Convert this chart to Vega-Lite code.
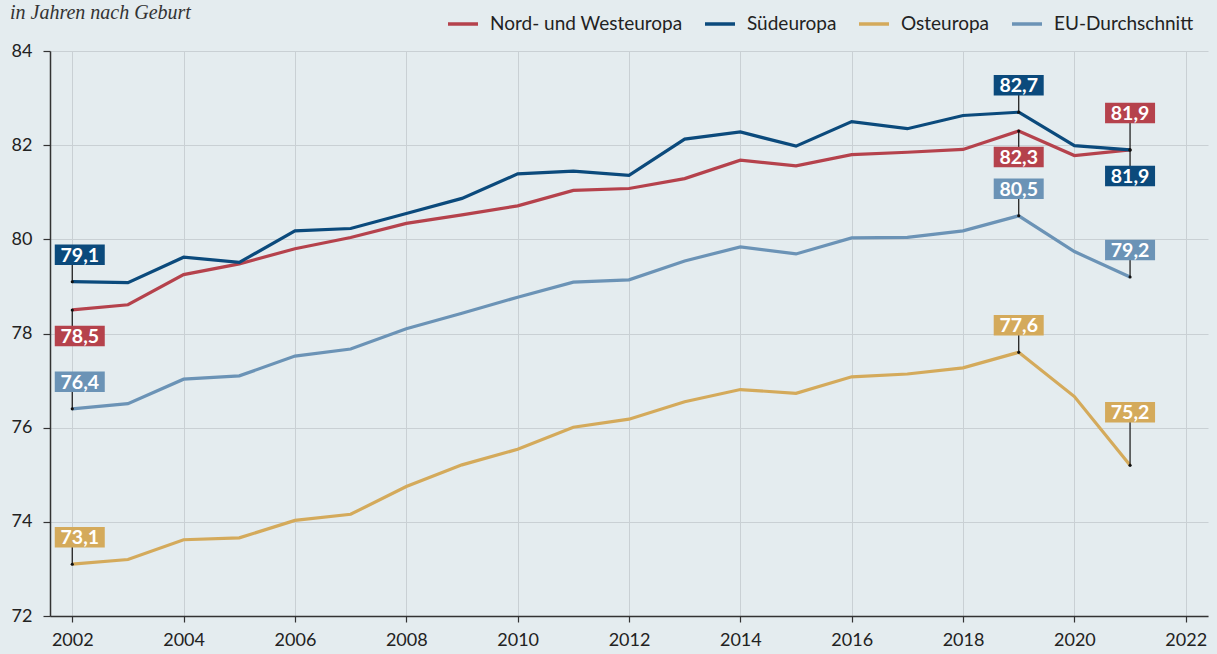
{
  "$schema": "https://vega.github.io/schema/vega-lite/v6.json",
  "width": 1158,
  "height": 565,
  "autosize": {"type": "none"},
  "padding": {"left": 50, "top": 51, "right": 9, "bottom": 38},
  "background": "#e4ecef",
  "config": {
    "view": {"stroke": null},
    "font": "Lato",
    "locale": {"number": {"decimal": ",", "thousands": ".", "grouping": [3], "currency": ["", " €"]}},
    "axis": {
      "domainColor": "#333333",
      "domainWidth": 1.5,
      "tickColor": "#333333",
      "tickWidth": 1.2,
      "gridColor": "#c9d0d4",
      "gridWidth": 1,
      "labelFont": "Lato",
      "labelFontSize": 18,
      "labelColor": "#222222",
      "title": null
    },
    "legend": {
      "labelFont": "Lato",
      "labelFontSize": 19,
      "labelColor": "#222222",
      "labelLimit": 400
    }
  },
  "title": {
    "text": "in Jahren nach Geburt",
    "anchor": "start",
    "frame": "group",
    "dx": -40,
    "offset": -32,
    "baseline": "alphabetic",
    "font": "Liberation Serif",
    "fontStyle": "italic",
    "fontWeight": "normal",
    "fontSize": 20,
    "color": "#333333"
  },
  "data": {
    "values": [
      {"region": "Nord- und Westeuropa", "jahr": 2002, "wert": 78.5},
      {"region": "Nord- und Westeuropa", "jahr": 2003, "wert": 78.61},
      {"region": "Nord- und Westeuropa", "jahr": 2004, "wert": 79.25},
      {"region": "Nord- und Westeuropa", "jahr": 2005, "wert": 79.48},
      {"region": "Nord- und Westeuropa", "jahr": 2006, "wert": 79.8},
      {"region": "Nord- und Westeuropa", "jahr": 2007, "wert": 80.04},
      {"region": "Nord- und Westeuropa", "jahr": 2008, "wert": 80.34},
      {"region": "Nord- und Westeuropa", "jahr": 2009, "wert": 80.52},
      {"region": "Nord- und Westeuropa", "jahr": 2010, "wert": 80.71},
      {"region": "Nord- und Westeuropa", "jahr": 2011, "wert": 81.04},
      {"region": "Nord- und Westeuropa", "jahr": 2012, "wert": 81.08},
      {"region": "Nord- und Westeuropa", "jahr": 2013, "wert": 81.29},
      {"region": "Nord- und Westeuropa", "jahr": 2014, "wert": 81.68},
      {"region": "Nord- und Westeuropa", "jahr": 2015, "wert": 81.56},
      {"region": "Nord- und Westeuropa", "jahr": 2016, "wert": 81.8},
      {"region": "Nord- und Westeuropa", "jahr": 2017, "wert": 81.85},
      {"region": "Nord- und Westeuropa", "jahr": 2018, "wert": 81.91},
      {"region": "Nord- und Westeuropa", "jahr": 2019, "wert": 82.3},
      {"region": "Nord- und Westeuropa", "jahr": 2020, "wert": 81.78},
      {"region": "Nord- und Westeuropa", "jahr": 2021, "wert": 81.9},
      {"region": "Südeuropa", "jahr": 2002, "wert": 79.1},
      {"region": "Südeuropa", "jahr": 2003, "wert": 79.08},
      {"region": "Südeuropa", "jahr": 2004, "wert": 79.62},
      {"region": "Südeuropa", "jahr": 2005, "wert": 79.51},
      {"region": "Südeuropa", "jahr": 2006, "wert": 80.18},
      {"region": "Südeuropa", "jahr": 2007, "wert": 80.23},
      {"region": "Südeuropa", "jahr": 2008, "wert": 80.55},
      {"region": "Südeuropa", "jahr": 2009, "wert": 80.87},
      {"region": "Südeuropa", "jahr": 2010, "wert": 81.39},
      {"region": "Südeuropa", "jahr": 2011, "wert": 81.45},
      {"region": "Südeuropa", "jahr": 2012, "wert": 81.36},
      {"region": "Südeuropa", "jahr": 2013, "wert": 82.13},
      {"region": "Südeuropa", "jahr": 2014, "wert": 82.28},
      {"region": "Südeuropa", "jahr": 2015, "wert": 81.98},
      {"region": "Südeuropa", "jahr": 2016, "wert": 82.5},
      {"region": "Südeuropa", "jahr": 2017, "wert": 82.35},
      {"region": "Südeuropa", "jahr": 2018, "wert": 82.63},
      {"region": "Südeuropa", "jahr": 2019, "wert": 82.7},
      {"region": "Südeuropa", "jahr": 2020, "wert": 81.99},
      {"region": "Südeuropa", "jahr": 2021, "wert": 81.9},
      {"region": "Osteuropa", "jahr": 2002, "wert": 73.1},
      {"region": "Osteuropa", "jahr": 2003, "wert": 73.2},
      {"region": "Osteuropa", "jahr": 2004, "wert": 73.62},
      {"region": "Osteuropa", "jahr": 2005, "wert": 73.66},
      {"region": "Osteuropa", "jahr": 2006, "wert": 74.03},
      {"region": "Osteuropa", "jahr": 2007, "wert": 74.16},
      {"region": "Osteuropa", "jahr": 2008, "wert": 74.75},
      {"region": "Osteuropa", "jahr": 2009, "wert": 75.21},
      {"region": "Osteuropa", "jahr": 2010, "wert": 75.54},
      {"region": "Osteuropa", "jahr": 2011, "wert": 76.01},
      {"region": "Osteuropa", "jahr": 2012, "wert": 76.18},
      {"region": "Osteuropa", "jahr": 2013, "wert": 76.55},
      {"region": "Osteuropa", "jahr": 2014, "wert": 76.81},
      {"region": "Osteuropa", "jahr": 2015, "wert": 76.73},
      {"region": "Osteuropa", "jahr": 2016, "wert": 77.08},
      {"region": "Osteuropa", "jahr": 2017, "wert": 77.14},
      {"region": "Osteuropa", "jahr": 2018, "wert": 77.27},
      {"region": "Osteuropa", "jahr": 2019, "wert": 77.6},
      {"region": "Osteuropa", "jahr": 2020, "wert": 76.66},
      {"region": "Osteuropa", "jahr": 2021, "wert": 75.2},
      {"region": "EU-Durchschnitt", "jahr": 2002, "wert": 76.4},
      {"region": "EU-Durchschnitt", "jahr": 2003, "wert": 76.51},
      {"region": "EU-Durchschnitt", "jahr": 2004, "wert": 77.03},
      {"region": "EU-Durchschnitt", "jahr": 2005, "wert": 77.1},
      {"region": "EU-Durchschnitt", "jahr": 2006, "wert": 77.52},
      {"region": "EU-Durchschnitt", "jahr": 2007, "wert": 77.67},
      {"region": "EU-Durchschnitt", "jahr": 2008, "wert": 78.1},
      {"region": "EU-Durchschnitt", "jahr": 2009, "wert": 78.43},
      {"region": "EU-Durchschnitt", "jahr": 2010, "wert": 78.77},
      {"region": "EU-Durchschnitt", "jahr": 2011, "wert": 79.09},
      {"region": "EU-Durchschnitt", "jahr": 2012, "wert": 79.14},
      {"region": "EU-Durchschnitt", "jahr": 2013, "wert": 79.54},
      {"region": "EU-Durchschnitt", "jahr": 2014, "wert": 79.84},
      {"region": "EU-Durchschnitt", "jahr": 2015, "wert": 79.69},
      {"region": "EU-Durchschnitt", "jahr": 2016, "wert": 80.03},
      {"region": "EU-Durchschnitt", "jahr": 2017, "wert": 80.04},
      {"region": "EU-Durchschnitt", "jahr": 2018, "wert": 80.18},
      {"region": "EU-Durchschnitt", "jahr": 2019, "wert": 80.5},
      {"region": "EU-Durchschnitt", "jahr": 2020, "wert": 79.74},
      {"region": "EU-Durchschnitt", "jahr": 2021, "wert": 79.2}
    ]
  },
  "encoding": {
    "x": {
      "field": "jahr",
      "type": "quantitative",
      "scale": {"domain": [2001.6, 2022.4], "nice": false, "zero": false},
      "axis": {
        "values": [2002, 2004, 2006, 2008, 2010, 2012, 2014, 2016, 2018, 2020, 2022],
        "format": "d",
        "tickSize": 6,
        "labelPadding": 9,
        "labelFontSize": 18
      }
    },
    "y": {
      "field": "wert",
      "type": "quantitative",
      "scale": {"domain": [72, 84], "nice": false, "zero": false},
      "axis": {
        "values": [72, 74, 76, 78, 80, 82, 84],
        "format": "d",
        "tickSize": 7,
        "labelPadding": 11
      }
    }
  },
  "layer": [
    {
      "mark": {"type": "line", "strokeWidth": 3.2},
      "encoding": {
        "color": {
          "field": "region",
          "type": "nominal",
          "scale": {
            "domain": ["Nord- und Westeuropa", "Südeuropa", "Osteuropa", "EU-Durchschnitt"],
            "range": ["#b5424c", "#0b4a7c", "#d4aa5b", "#6b93b6"]
          },
          "legend": {
            "title": null,
            "orient": "none",
            "direction": "horizontal",
            "legendX": 396,
            "legendY": -44,
            "symbolType": "stroke",
            "symbolSize": 900,
            "symbolStrokeWidth": 3.5,
            "labelOffset": 10,
            "columnPadding": 15
          }
        }
      }
    },
    {
      "transform": [{"filter": "indexof([2002, 2019, 2021], datum.jahr) >= 0"}],
      "layer": [
        {
          "mark": {
            "type": "rule",
            "color": "#222222",
            "strokeWidth": 1.3,
            "y2Offset": {"expr": "((datum.region === 'Nord- und Westeuropa' && datum.jahr < 2021) || (datum.region === 'Südeuropa' && datum.jahr === 2021)) ? 26 : ((datum.jahr === 2021 && datum.region === 'Nord- und Westeuropa') ? -37 : ((datum.jahr === 2021 && datum.region === 'Osteuropa') ? -53 : -27))"}
          },
          "encoding": {
            "y2": {"field": "wert"}
          }
        },
        {
          "mark": {"type": "point", "filled": true, "color": "#111111", "size": 10, "opacity": 1},
          "encoding": {}
        },
        {
          "mark": {
            "type": "point",
            "shape": "M-1,-0.41H1V0.41H-1Z",
            "filled": true,
            "opacity": 1,
            "size": 2500,
            "strokeWidth": 0,
            "xOffset": {"expr": "datum.jahr === 2002 ? 7.5 : 0"},
            "yOffset": {"expr": "((datum.region === 'Nord- und Westeuropa' && datum.jahr < 2021) || (datum.region === 'Südeuropa' && datum.jahr === 2021)) ? 26 : ((datum.jahr === 2021 && datum.region === 'Nord- und Westeuropa') ? -37 : ((datum.jahr === 2021 && datum.region === 'Osteuropa') ? -53 : -27))"}
          },
          "encoding": {
            "color": {"field": "region", "type": "nominal", "legend": null}
          }
        },
        {
          "mark": {
            "type": "text",
            "color": "white",
            "font": "Lato",
            "fontWeight": "bold",
            "fontSize": 19.5,
            "align": "center",
            "baseline": "middle",
            "xOffset": {"expr": "datum.jahr === 2002 ? 7.5 : 0"},
            "yOffset": {"expr": "((datum.region === 'Nord- und Westeuropa' && datum.jahr < 2021) || (datum.region === 'Südeuropa' && datum.jahr === 2021)) ? 27 : ((datum.jahr === 2021 && datum.region === 'Nord- und Westeuropa') ? -36 : ((datum.jahr === 2021 && datum.region === 'Osteuropa') ? -52 : -26))"}
          },
          "encoding": {
            "text": {"field": "wert", "type": "quantitative", "format": ".1f"}
          }
        }
      ]
    }
  ]
}
